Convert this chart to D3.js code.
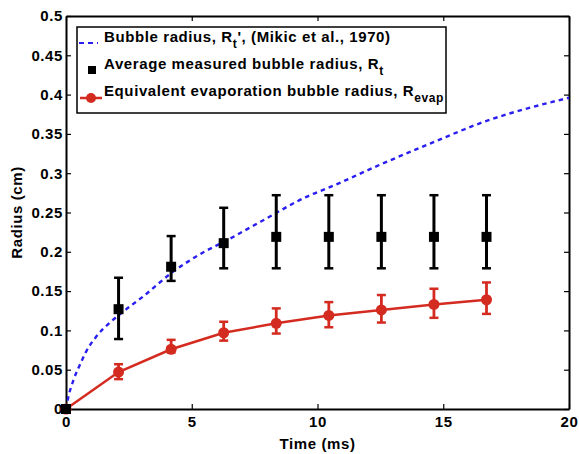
<!DOCTYPE html>
<html><head><meta charset="utf-8">
<script src="https://cdn.jsdelivr.net/npm/d3@7"></script>
<style>
html,body{margin:0;padding:0;background:#fff;}
svg{display:block;font-family:"Liberation Sans",Arial,sans-serif;}
</style></head>
<body><svg id="c" width="579" height="454"></svg>
<script>
// Data
const timeMs = [0, 2.09, 4.18, 6.27, 8.36, 10.45, 12.54, 14.63, 16.72];
const measuredR = [0, 0.127, 0.181, 0.211, 0.219, 0.219, 0.219, 0.219, 0.219];
const measuredLo = [0, 0.089, 0.163, 0.179, 0.179, 0.179, 0.179, 0.179, 0.179];
const measuredHi = [0, 0.167, 0.220, 0.256, 0.272, 0.272, 0.272, 0.272, 0.272];
const evapR = [0, 0.047, 0.076, 0.097, 0.109, 0.119, 0.126, 0.133, 0.139];
const evapLo = [0, 0.038, 0.072, 0.087, 0.096, 0.104, 0.110, 0.116, 0.121];
const evapHi = [0, 0.057, 0.088, 0.111, 0.128, 0.136, 0.145, 0.153, 0.161];
const mikicT = [0, 0.1, 0.3, 0.55, 0.8, 1.2, 1.75, 2.4, 3.1, 4.15, 5.5, 6.3, 7.75, 9.7, 10.4, 12.5, 14.5, 16.5, 20];
const mikicR = [0, 0.016, 0.037, 0.056, 0.073, 0.092, 0.110, 0.127, 0.144, 0.172, 0.200, 0.213, 0.2385, 0.272, 0.281, 0.311, 0.338, 0.364, 0.396];
const xTicks = [0, 5, 10, 15, 20];
const yTicks = [0, 0.05, 0.1, 0.15, 0.2, 0.25, 0.3, 0.35, 0.4, 0.45, 0.5];
const xLabel = "Time (ms)";
const yLabel = "Radius (cm)";

const svg = d3.select("#c");
const m = {l: 66, r: 10, t: 16, b: 45};
const W = 579, H = 454;
const x = d3.scaleLinear().domain([0, 20]).range([m.l, W - m.r]);
const y = d3.scaleLinear().domain([0, 0.5]).range([H - m.b, m.t]);
const fs = 15;
const ls = 0.6;

const blue = "#2a1ef0", red = "#d42b20";

// axes
const tickFmt = d => d3.format("~g")(d);
const gx = svg.append("g").attr("transform", `translate(0,${y(0)})`)
  .call(d3.axisBottom(x).tickValues(xTicks).tickSizeInner(-5).tickSizeOuter(0).tickPadding(7).tickFormat(tickFmt));
const gxt = svg.append("g").attr("transform", `translate(0,${y(0.5)})`)
  .call(d3.axisTop(x).tickValues(xTicks).tickSizeInner(-5).tickSizeOuter(0).tickFormat(""));
const gy = svg.append("g").attr("transform", `translate(${x(0)},0)`)
  .call(d3.axisLeft(y).tickValues(yTicks).tickSizeInner(-5).tickSizeOuter(0).tickPadding(3).tickFormat(tickFmt));
const gyr = svg.append("g").attr("transform", `translate(${x(20)},0)`)
  .call(d3.axisRight(y).tickValues(yTicks).tickSizeInner(-5).tickSizeOuter(0).tickFormat(""));
[gx, gxt, gy, gyr].forEach(g => {
  g.select(".domain").attr("stroke", "#000").attr("stroke-width", 2);
  g.selectAll(".tick line").attr("stroke", "#000").attr("stroke-width", 1.2);
  g.selectAll(".tick text").attr("fill", "#000").attr("font-size", fs).attr("font-weight", "bold")
    .attr("letter-spacing", ls).attr("font-family", "'Liberation Sans',Arial,sans-serif");
});

// axis labels
svg.append("text").attr("x", (x(0) + x(20)) / 2).attr("y", 449).attr("text-anchor", "middle")
  .attr("font-size", fs).attr("font-weight", "bold").attr("letter-spacing", ls).text(xLabel);
svg.append("text").attr("transform", `translate(22,${(y(0) + y(0.5)) / 2}) rotate(-90)`).attr("text-anchor", "middle")
  .attr("font-size", fs).attr("font-weight", "bold").attr("letter-spacing", ls).text(yLabel);

// Mikic curve
const mikic = mikicT.map((t, i) => [t, mikicR[i]]);
svg.append("path").datum(mikic)
  .attr("d", d3.line().x(d => x(d[0])).y(d => y(d[1])).curve(d3.curveMonotoneX))
  .attr("fill", "none").attr("stroke", blue).attr("stroke-width", 2.4).attr("stroke-dasharray", "4.5,4");

// evap line
const ev = timeMs.map((t, i) => ({t, r: evapR[i], lo: evapLo[i], hi: evapHi[i]}));
svg.append("path").datum(ev)
  .attr("d", d3.line().x(d => x(d.t)).y(d => y(d.r)))
  .attr("fill", "none").attr("stroke", red).attr("stroke-width", 2.5);
const evE = svg.append("g");
ev.filter(d => d.t > 0).forEach(d => {
  evE.append("line").attr("x1", x(d.t)).attr("x2", x(d.t)).attr("y1", y(d.lo)).attr("y2", y(d.hi))
    .attr("stroke", red).attr("stroke-width", 2.8);
  [d.lo, d.hi].forEach(v => evE.append("line").attr("x1", x(d.t) - 4.5).attr("x2", x(d.t) + 4.5)
    .attr("y1", y(v)).attr("y2", y(v)).attr("stroke", red).attr("stroke-width", 2.5));
});
svg.append("g").selectAll("circle").data(ev).join("circle")
  .attr("cx", d => x(d.t)).attr("cy", d => y(d.r)).attr("r", 5.5).attr("fill", red);

// measured
const ms = timeMs.map((t, i) => ({t, r: measuredR[i], lo: measuredLo[i], hi: measuredHi[i]}));
const msE = svg.append("g");
ms.filter(d => d.t > 0).forEach(d => {
  msE.append("line").attr("x1", x(d.t)).attr("x2", x(d.t)).attr("y1", y(d.lo)).attr("y2", y(d.hi))
    .attr("stroke", "#000").attr("stroke-width", 3);
  [d.lo, d.hi].forEach(v => msE.append("line").attr("x1", x(d.t) - 4.5).attr("x2", x(d.t) + 4.5)
    .attr("y1", y(v)).attr("y2", y(v)).attr("stroke", "#000").attr("stroke-width", 2.5));
});
svg.append("g").selectAll("rect").data(ms).join("rect")
  .attr("x", d => x(d.t) - 5).attr("y", d => y(d.r) - 5).attr("width", 10).attr("height", 10).attr("fill", "#000");

// legend
const lg = svg.append("g");
lg.append("rect").attr("x", 77).attr("y", 27).attr("width", 369).attr("height", 86)
  .attr("fill", "#fff").attr("stroke", "#000").attr("stroke-width", 1.5);
lg.append("line").attr("x1", 79).attr("x2", 98).attr("y1", 43).attr("y2", 43)
  .attr("stroke", blue).attr("stroke-width", 2).attr("stroke-dasharray", "5,4");
lg.append("rect").attr("x", 88).attr("y", 66).attr("width", 8).attr("height", 8).attr("fill", "#000");
lg.append("line").attr("x1", 80).attr("x2", 102).attr("y1", 98).attr("y2", 98).attr("stroke", red).attr("stroke-width", 2.5);
lg.append("circle").attr("cx", 91).attr("cy", 98).attr("r", 5).attr("fill", red);

function legText(yy, parts) {
  const t = lg.append("text").attr("x", 104).attr("y", yy).attr("font-size", fs).attr("font-weight", "bold")
    .attr("letter-spacing", ls);
  parts.forEach(p => {
    const s = t.append("tspan").text(p.s);
    if (p.sub) s.attr("dy", 6).attr("font-size", fs * 0.8);
    if (p.back) s.attr("dy", -6).attr("font-size", fs);
  });
}
legText(42, [{s: "Bubble radius, R"}, {s: "t", sub: true}, {s: "', (Mikic et al., 1970)", back: true}]);
legText(69, [{s: "Average measured bubble radius, R"}, {s: "t", sub: true}]);
legText(96, [{s: "Equivalent evaporation bubble radius, R"}, {s: "evap", sub: true}]);
</script></body></html>
